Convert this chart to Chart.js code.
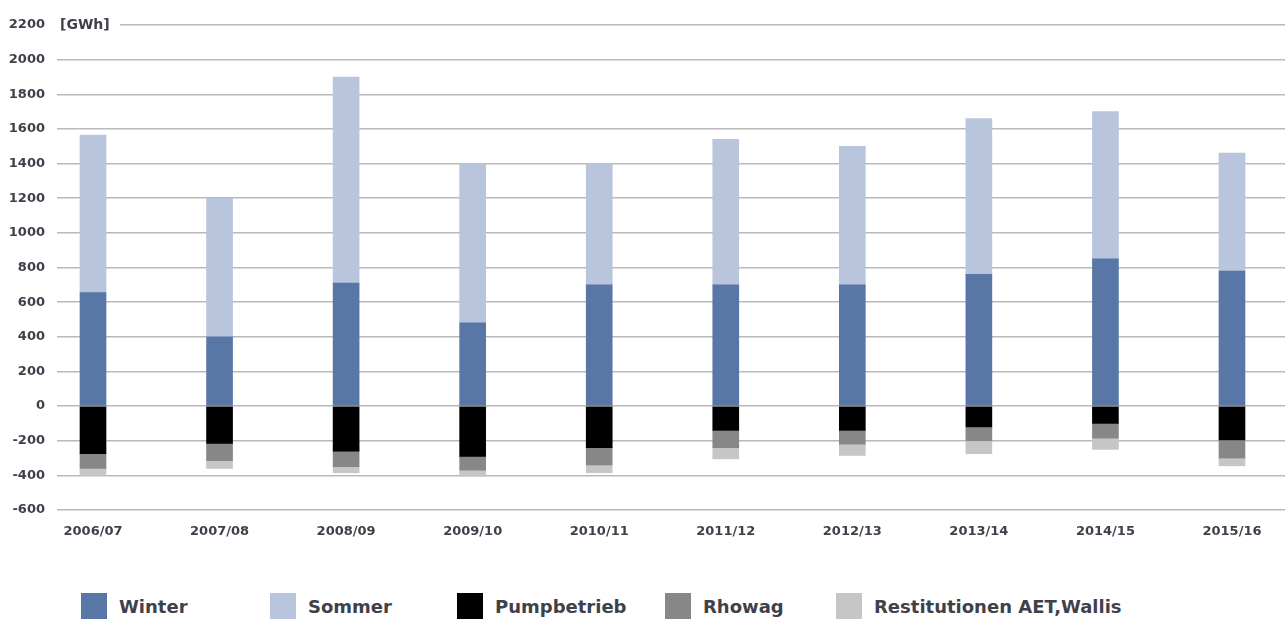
<!DOCTYPE html>
<html lang="de">
<head>
<meta charset="UTF-8">
<title>Energie [GWh]</title>
<script src="https://cdn.jsdelivr.net/npm/chart.js"></script>
<style>
  html, body { margin: 0; padding: 0; background: #fff; overflow: hidden; }
  #wrap { position: relative; width: 1285px; height: 619px; }
  #box { position: absolute; left: 0; top: 0; width: 1285px; height: 560px; }
  #legend { position: absolute; left: 0; top: 593px; width: 1285px; height: 26px;
            font: bold 18px "DejaVu Sans", sans-serif; color: #3f414a; }
  .item { position: absolute; top: 0; display: flex; align-items: center; height: 26px; white-space: nowrap; }
  .sw { width: 26px; height: 26px; margin-right: 12px; }
</style>
</head>
<body>
<div id="wrap">
  <div id="box"><canvas id="myChart"></canvas></div>
  <div id="legend"></div>
</div>

<script>
// values, GWh
const categories = ['2006/07', '2007/08', '2008/09', '2009/10', '2010/11',
                    '2011/12', '2012/13', '2013/14', '2014/15', '2015/16'];
const winter      = [655, 400, 710, 480, 700, 700, 700, 760, 850, 780];
const sommer      = [910, 800, 1190, 920, 700, 840, 800, 900, 850, 680];
const pumpbetrieb = [-275, -215, -260, -290, -240, -140, -140, -120, -100, -195];
const rhowag      = [-85, -100, -90, -80, -100, -100, -80, -80, -85, -105];
const restitution = [-40, -45, -35, -35, -45, -65, -65, -75, -65, -45];
const yTicks = [-600, -400, -200, 0, 200, 400, 600, 800, 1000, 1200, 1400, 1600, 1800, 2000, 2200];

const series = [
    { label: 'Winter', data: winter, color: '#5877a6' },
    { label: 'Sommer', data: sommer, color: '#b8c5dc' },
    { label: 'Pumpbetrieb', data: pumpbetrieb, color: '#000000' },
    { label: 'Rhowag', data: rhowag, color: '#878787' },
    { label: 'Restitutionen AET,Wallis', data: restitution, color: '#c6c6c6' }
];

const textColor = '#3f414a';
const axisFont = { family: '"DejaVu Sans", sans-serif', size: 13, weight: 'bold' };

// unit label sitting on the top gridline
const unitLabel = {
    id: 'unitLabel',
    beforeDatasetsDraw(chart) {
        const ctx = chart.ctx;
        const y = chart.scales.y.getPixelForValue(yTicks[yTicks.length - 1]);
        ctx.save();
        ctx.fillStyle = '#fff';
        ctx.fillRect(chart.chartArea.left, y - 3, 63, 6);
        ctx.fillStyle = textColor;
        ctx.font = 'bold 14px "DejaVu Sans", sans-serif';
        ctx.textAlign = 'left';
        ctx.textBaseline = 'middle';
        ctx.fillText('[GWh]', chart.chartArea.left + 3, y);
        ctx.restore();
    }
};

const ctx = document.getElementById('myChart').getContext('2d');
const myChart = new Chart(ctx, {
    type: 'bar',
    data: {
        datasets: series.map(s => ({
            label: s.label,
            data: s.data.map((v, i) => ({ x: i, y: v })),
            backgroundColor: s.color,
            borderWidth: 0,
            barThickness: 26
        }))
    },
    options: {
        responsive: true,
        maintainAspectRatio: false,
        animation: false,
        layout: { padding: { top: 25, left: 6, right: 0, bottom: 10 } },
        plugins: { legend: { display: false }, tooltip: { enabled: false } },
        scales: {
            x: {
                type: 'linear',
                stacked: true,
                offset: false,
                min: -0.2845,
                max: 9.419,
                grid: { display: false, drawTicks: false, offset: false },
                border: { display: false },
                afterBuildTicks: s => { s.ticks = categories.map((c, i) => ({ value: i })); },
                afterFit: s => { s.height = 40; },
                ticks: {
                    padding: 14,
                    maxRotation: 0,
                    autoSkip: false,
                    color: textColor,
                    font: { family: '"DejaVu Sans", sans-serif', size: 13, weight: 'bold' },
                    callback: v => categories[v]
                }
            },
            y: {
                stacked: true,
                min: -600,
                max: 2200,
                afterBuildTicks: s => { s.ticks = yTicks.map(v => ({ value: v })); },
                afterFit: s => { s.width = 51; },
                grid: { color: '#b9b9b9', lineWidth: 1.5, drawTicks: false },
                border: { display: false },
                ticks: {
                    padding: 12,
                    color: textColor,
                    font: axisFont,
                    callback: v => String(v)
                }
            }
        }
    },
    plugins: [unitLabel]
});

// legend row under the chart
const legendLeft = [81, 270, 457, 665, 836];
const legend = document.getElementById('legend');
series.forEach((s, i) => {
    const item = document.createElement('div');
    item.className = 'item';
    item.style.left = legendLeft[i] + 'px';
    const sw = document.createElement('span');
    sw.className = 'sw';
    sw.style.background = s.color;
    item.appendChild(sw);
    item.appendChild(document.createTextNode(s.label));
    legend.appendChild(item);
});
</script>
</body>
</html>
